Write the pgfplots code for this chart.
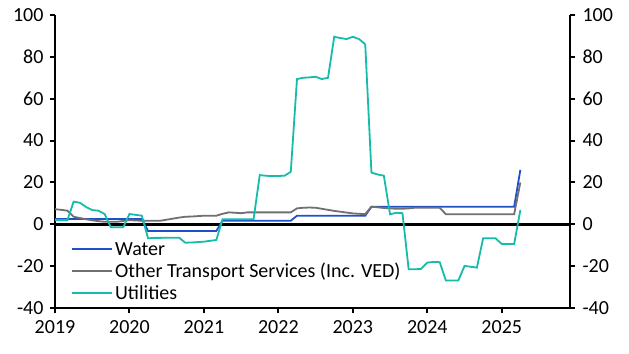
\documentclass[border=0pt]{standalone}
\usepackage{pgfplots}
\pgfplotsset{compat=1.18}
\usepackage{pgfplotstable}
\usepackage{fontspec}
\setmainfont{Carlito}
\definecolor{cwater}{RGB}{32,80,200}
\definecolor{cother}{RGB}{112,112,112}
\definecolor{cutil}{RGB}{22,187,170}
\pgfplotstableread{
m water other util
0 2.5 7.2 2
1 2.5 6.9 2
2 2.5 6.5 2
3 2.5 3.6 10.8
4 2.5 3.0 10.3
5 2.5 2.4 8.3
6 2.5 1.9 6.8
7 2.5 1.5 6.5
8 2.5 1.2 4.9
9 2.5 1.2 -1.4
10 2.5 1.2 -1.4
11 2.5 1.6 -1.4
12 2.5 2.0 4.9
13 2.5 1.8 4.5
14 2.5 1.7 4.1
15 -3.2 1.7 -6.7
16 -3.2 1.7 -6.5
17 -3.2 1.7 -6.5
18 -3.2 2.2 -6.4
19 -3.2 2.7 -6.4
20 -3.2 3.2 -6.4
21 -3.2 3.6 -8.8
22 -3.2 3.7 -8.7
23 -3.2 3.9 -8.5
24 -3.2 4.1 -8.3
25 -3.2 4.1 -7.9
26 -3.2 4.1 -7.5
27 1.7 5.0 2.4
28 1.7 5.7 2.4
29 1.7 5.5 2.4
30 1.7 5.3 2.4
31 1.7 5.7 2.4
32 1.7 5.7 2.4
33 1.7 5.7 23.5
34 1.7 5.7 23.2
35 1.7 5.7 23.0
36 1.7 5.7 23.1
37 1.7 5.7 23.2
38 1.7 5.7 25.1
39 4.1 7.6 69.4
40 4.1 7.9 70.0
41 4.1 8.0 70.2
42 4.1 7.9 70.5
43 4.1 7.4 69.4
44 4.1 6.9 70.0
45 4.1 6.4 89.6
46 4.1 6.0 89.0
47 4.1 5.6 88.5
48 4.1 5.2 89.6
49 4.1 5.0 88.5
50 4.1 4.9 86.0
51 8.4 8.4 24.7
52 8.4 8.1 23.8
53 8.4 7.8 23.2
54 8.4 7.6 4.8
55 8.4 7.4 5.5
56 8.4 7.4 5.3
57 8.4 7.6 -21.5
58 8.4 7.9 -21.5
59 8.4 7.9 -21.3
60 8.4 7.9 -18.3
61 8.4 7.9 -18.0
62 8.4 7.9 -18.1
63 8.4 4.8 -26.9
64 8.4 4.8 -26.9
65 8.4 4.8 -26.9
66 8.4 4.8 -19.9
67 8.4 4.8 -20.3
68 8.4 4.8 -20.7
69 8.4 4.8 -6.7
70 8.4 4.8 -6.7
71 8.4 4.8 -6.7
72 8.4 4.8 -9.4
73 8.4 4.8 -9.4
74 8.4 4.8 -9.4
75 26.0 20.0 6.8
}\datatable
\begin{document}
\begin{tikzpicture}
\path[use as bounding box] (-55bp,-46bp) rectangle (574bp,308bp);
\pgfplotsset{
  common/.style={
    scale only axis, width=515bp, height=293bp,
    xmin=0, xmax=83, ymin=-40, ymax=100,
    ytick={-40,-20,...,100},
    axis line style={line width=2.6bp, black, -},
    tick style={line width=2bp, black},
    major tick length=5bp,
    tick align=outside,
    font=\fontsize{20bp}{24bp}\selectfont,
    /pgf/number format/assume math mode=true,
  }
}
\begin{axis}[common,
  axis x line*=bottom, axis y line*=left,
  xtick={0,12,...,72},
  xticklabels={2019,2020,2021,2022,2023,2024,2025},
  xticklabel style={yshift=-4bp},
  yticklabel style={xshift=-3bp},
  legend style={at={(0.031,0.232)}, anchor=north west, draw=none, fill=none,
    font=\fontsize{20bp}{24bp}\selectfont, inner sep=0pt, row sep=2.5bp,
    cells={anchor=west}},
  legend image code/.code={\draw[#1, line width=2bp] (0bp,0bp) -- (40bp,0bp);},
]
\draw[line width=2.6bp, black] (axis cs:0,0) -- (axis cs:83,0);
\addplot[cwater, line width=1.8bp] table[x=m, y=water] {\datatable};
\addlegendentry{Water}
\addplot[cother, line width=1.8bp] table[x=m, y=other] {\datatable};
\addlegendentry{Other Transport Services (Inc. VED)}
\addplot[cutil, line width=1.8bp] table[x=m, y=util] {\datatable};
\addlegendentry{Utilities}
\end{axis}
\begin{axis}[common,
  axis x line=none, axis y line*=right,
  yticklabel style={xshift=4bp},
]
\end{axis}
\end{tikzpicture}
\end{document}
